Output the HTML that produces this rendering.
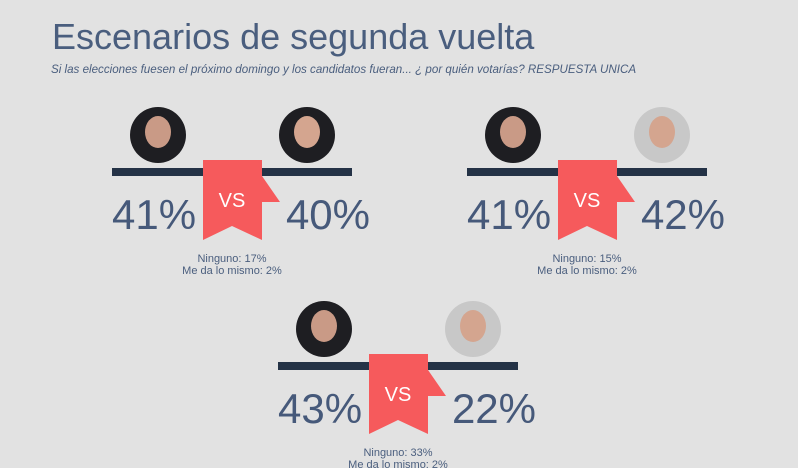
<!DOCTYPE html>
<html><head><meta charset="utf-8"><style>
body{margin:0;background:#e2e2e2;width:798px;height:468px;overflow:hidden;font-family:"Liberation Sans",sans-serif;position:relative}
.t{position:absolute;left:52px;top:16px;font-size:36px;color:#4a5e7e}
.s{position:absolute;left:51px;top:63px;font-size:11.6px;font-style:italic;color:#4a5e7e}
svg{position:absolute;left:0;top:0}
</style></head><body>
<div class="t">Escenarios de segunda vuelta</div>
<div class="s">Si las elecciones fuesen el próximo domingo y los candidatos fueran... ¿ por quién votarías? RESPUESTA UNICA</div>
<svg width="798" height="468" id="c"></svg>
<script>
const leftVals=[41,41,43];
const rightVals=[40,42,22];
const ninguno=[17,15,33];
const mismo=[2,2,2];
const origins=[[112,0],[467,0],[278,194]];
const rightLight=[false,true,true];
const svg=document.getElementById('c');
const NS='http://www.w3.org/2000/svg';
function mk(t,a,p){const e=document.createElementNS(NS,t);for(const k in a)e.setAttribute(k,a[k]);(p||svg).appendChild(e);return e;}
origins.forEach(([ox,oy],i)=>{
 const g=mk('g',{transform:`translate(${ox},${oy})`});
 
 
 const c1=mk('circle',{cx:46,cy:135,r:28,fill:'#1e1e22'},g);
 
 
 mk('ellipse',{cx:46,cy:132,rx:13,ry:16,fill:'#c99a86'},g);
 const c2=mk('circle',{cx:195,cy:135,r:28,fill:rightLight[i]?'#c8c8c8':'#1e1e22'},g);
 
 
 mk('ellipse',{cx:195,cy:132,rx:13,ry:16,fill:'#d4a58f'},g);
 const bar=mk('rect',{x:0,y:168,width:240,height:8,fill:'#243246'},g);
 
 
 const rb=mk('polygon',{points:'91,160 150,160 150,176 168,202 150,202 150,240 120,226 91,240',fill:'#f65a5c'},g);
 
 
 const vs=mk('text',{x:120,y:207,'font-size':20,fill:'#fff','text-anchor':'middle'},g);vs.textContent='VS';
 
 
 const l=mk('text',{x:0,y:229,'font-size':42,fill:'#46597a'},g);l.textContent=leftVals[i]+'%';
 
 
 const r=mk('text',{x:258,y:229,'font-size':42,fill:'#46597a','text-anchor':'end'},g);r.textContent=rightVals[i]+'%';
 
 
 const n=mk('text',{x:120,y:262,'font-size':11,fill:'#4a5e7e','text-anchor':'middle'},g);n.textContent='Ninguno: '+ninguno[i]+'%';
 
 
 const m=mk('text',{x:120,y:274,'font-size':11,fill:'#4a5e7e','text-anchor':'middle'},g);m.textContent='Me da lo mismo: '+mismo[i]+'%';
 
 
});
</script>
</body></html>
